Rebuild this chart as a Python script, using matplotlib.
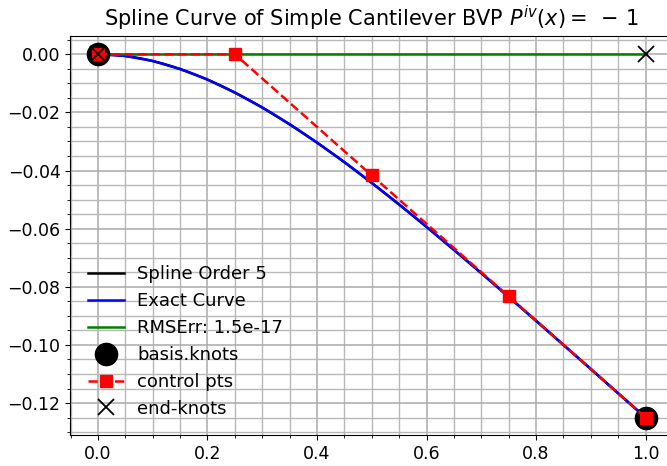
import numpy as np
import matplotlib
matplotlib.use("Agg")
import matplotlib.pyplot as plt
from matplotlib.ticker import MultipleLocator
from math import comb

# control points of the order-5 spline
ctrl_x = [0.0, 0.25, 0.5, 0.75, 1.0]
ctrl_y = [0.0, 0.0, -0.0417, -0.0833, -0.125]

# basis knots and end knots
knot_x = [0.0, 1.0]
knot_y = [0.0, -0.125]
end_x = [0.0, 1.0]
end_y = [0.0, 0.0]

# exact curve
exact_x = [0.0, 0.05, 0.1, 0.15, 0.2, 0.25, 0.3, 0.35, 0.4, 0.45, 0.5,
           0.55, 0.6, 0.65, 0.7, 0.75, 0.8, 0.85, 0.9, 0.95, 1.0]
exact_y = [0.0, -0.0006, -0.0023, -0.0051, -0.0087, -0.0132, -0.0183,
           -0.0241, -0.0304, -0.0371, -0.0443, -0.0517, -0.0594, -0.0673,
           -0.0753, -0.0835, -0.0917, -0.1000, -0.1083, -0.1167, -0.125]
err_y = [0.0] * len(exact_x)


def bezier(px, py, n=101):
    t = np.linspace(0, 1, n)
    k = len(px) - 1
    bx = np.zeros(n)
    by = np.zeros(n)
    for i in range(k + 1):
        b = comb(k, i) * t**i * (1 - t)**(k - i)
        bx += b * px[i]
        by += b * py[i]
    return bx, by


sx, sy = bezier(ctrl_x, ctrl_y)

fig = plt.figure(figsize=(6.67, 4.66), dpi=100)
ax = fig.add_axes([0.1054, 0.0665, 0.9036, 0.857])

ax.plot(sx, sy, "k-", lw=1.8, label="Spline Order 5")
ax.plot(exact_x, exact_y, "b-", lw=1.8, label="Exact Curve")
ax.plot(exact_x, err_y, "g-", lw=1.8, label="RMSErr: 1.5e-17")
ax.plot(knot_x, knot_y, "ko", ms=16, label="basis.knots")
ax.plot(ctrl_x, ctrl_y, "rs--", ms=8, lw=1.8, label="control pts")
ax.plot(end_x, end_y, "kx", ms=11, mew=1.3, label="end-knots")

ax.set_xlim(-0.0505, 1.05)
ax.set_ylim(-0.131, 0.0064)
ax.xaxis.set_minor_locator(MultipleLocator(0.05))
ax.yaxis.set_minor_locator(MultipleLocator(0.005))
ax.grid(True, which="major", color="#aaaaaa", lw=1.1)
ax.grid(True, which="minor", color="#b8b8b8", lw=1.0)
ax.set_axisbelow(True)
ax.tick_params(labelsize=12.5)
ax.set_title(r"Spline Curve of Simple Cantilever BVP $P^{iv}(x) =\;-\,1$",
             fontsize=15, pad=7)
ax.legend(loc="lower left", frameon=False, fontsize=13, borderaxespad=0.56,
          labelspacing=0.49, handlelength=2.0, handletextpad=0.75)

fig.savefig("out.png", dpi=100)
